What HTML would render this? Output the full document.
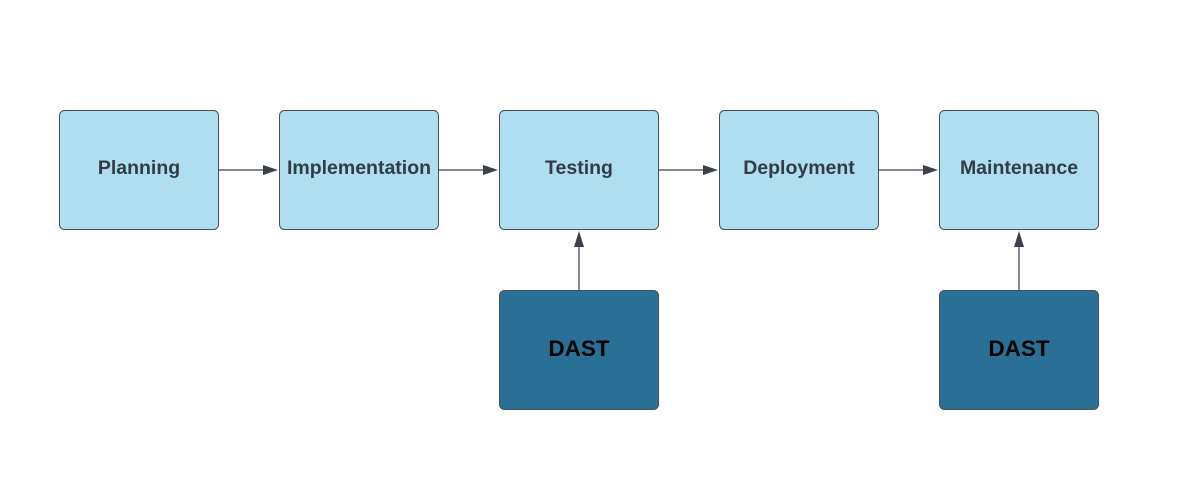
<!DOCTYPE html>
<html><head><style>body{margin:0;background:#fff}</style></head><body>
<svg width="1181" height="481" xmlns="http://www.w3.org/2000/svg" font-family="Liberation Sans, sans-serif" font-weight="bold">
<g fill="#aedef0" stroke="#4a5058" stroke-width="1">
<rect x="59.5" y="110.5" width="159" height="119" rx="5"/>
<rect x="279.5" y="110.5" width="159" height="119" rx="5"/>
<rect x="499.5" y="110.5" width="159" height="119" rx="5"/>
<rect x="719.5" y="110.5" width="159" height="119" rx="5"/>
<rect x="939.5" y="110.5" width="159" height="119" rx="5"/>
</g>
<g fill="#2a7096" stroke="#4a5058" stroke-width="1">
<rect x="499.5" y="290.5" width="159" height="119" rx="5"/>
<rect x="939.5" y="290.5" width="159" height="119" rx="5"/>
</g>
<g stroke="#3a414a" stroke-width="1.2" fill="#3a414a">
<line x1="219" y1="170" x2="265" y2="170"/><path d="M263,165 L278,170 L263,175Z" stroke="none"/>
<line x1="439" y1="170" x2="485" y2="170"/><path d="M483,165 L498,170 L483,175Z" stroke="none"/>
<line x1="659" y1="170" x2="705" y2="170"/><path d="M703,165 L718,170 L703,175Z" stroke="none"/>
<line x1="879" y1="170" x2="925" y2="170"/><path d="M923,165 L938,170 L923,175Z" stroke="none"/>
<line x1="579" y1="290" x2="579" y2="245"/><path d="M574,247 L579,231 L584,247Z" stroke="none"/>
<line x1="1019" y1="290" x2="1019" y2="245"/><path d="M1014,247 L1019,231 L1024,247Z" stroke="none"/>
</g>
<g fill="#333c46" font-size="19.5" text-anchor="middle">
<text x="139" y="174">Planning</text>
<text x="359" y="174">Implementation</text>
<text x="579" y="174">Testing</text>
<text x="799" y="174">Deployment</text>
<text x="1019" y="174">Maintenance</text>
</g>
<g fill="#000" font-size="22.5" text-anchor="middle">
<text x="579" y="356">DAST</text>
<text x="1019" y="356">DAST</text>
</g>
</svg>
</body></html>
